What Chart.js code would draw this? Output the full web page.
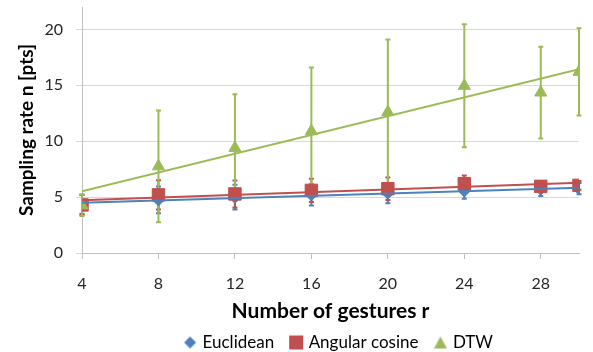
<!DOCTYPE html>
<html>
<head>
<meta charset="utf-8">
<script src="https://cdn.jsdelivr.net/npm/chart.js@4.4.1/dist/chart.umd.min.js"></script>
<style>
  html, body { margin: 0; padding: 0; background: #fff; }
</style>
</head>
<body>
<canvas id="MiGrafico" width="593" height="352"></canvas>
<script>
// data
const gestures = [4, 8, 12, 16, 20, 24, 28, 30];
const xTicks = [4, 8, 12, 16, 20, 24, 28];
const yTicks = [0, 5, 10, 15, 20];
const seriesNames = ['Euclidean', 'Angular cosine', 'DTW'];
const euclidean = [4.35, 4.75, 5.0, 5.2, 5.35, 5.55, 5.7, 5.75];
const euclideanErr = [0.85, 1.2, 1.1, 0.95, 0.9, 0.7, 0.6, 0.5];
const angular = [4.3, 5.2, 5.28, 5.6, 5.75, 6.2, 5.96, 6.05];
const angularErr = [0.9, 1.3, 1.2, 1.05, 1.0, 0.73, 0.45, 0.4];
const dtw = [4.25, 7.75, 9.4, 10.9, 12.6, 14.95, 14.35, 16.2];
const dtwErr = [0.95, 5.0, 4.8, 5.7, 6.5, 5.5, 4.1, 3.9];

const colors = ['#4F81BD', '#C0504D', '#9BBB59'];
const styles = ['rectRot', 'rect', 'triangle'];
const radii = [6, 8.8, 7];

const FONT = 'Lato, "Open Sans", sans-serif';
const LEGEND_PAD = 18;

function points(ys) {
    return gestures.map((x, i) => ({ x: x, y: ys[i] }));
}

// least squares line, like the excel trendline
function trend(ys) {
    const n = gestures.length;
    const mx = gestures.reduce((a, b) => a + b, 0) / n;
    const my = ys.reduce((a, b) => a + b, 0) / n;
    let sxy = 0, sxx = 0;
    gestures.forEach((x, i) => {
        sxy += (x - mx) * (ys[i] - my);
        sxx += (x - mx) * (x - mx);
    });
    const b = sxy / sxx, a = my - b * mx;
    const x0 = gestures[0], x1 = gestures[n - 1];
    return [{ x: x0, y: a + b * x0 }, { x: x1, y: a + b * x1 }];
}

// small legend icons
function makeIcon(style, color) {
    const c = document.createElement('canvas');
    c.width = 16; c.height = 16;
    const g = c.getContext('2d');
    g.fillStyle = color;
    g.beginPath();
    if (style === 'rect') {
        g.rect(1, 1, 14, 14);
    } else if (style === 'rectRot') {
        g.moveTo(8, 2); g.lineTo(14, 8); g.lineTo(8, 14); g.lineTo(2, 8);
    } else {
        g.moveTo(8, 2); g.lineTo(14.5, 14); g.lineTo(1.5, 14);
    }
    g.closePath();
    g.fill();
    return c;
}

const allValues = [euclidean, angular, dtw];
const allErrors = [euclideanErr, angularErr, dtwErr];

const datasets = [];
allValues.forEach((vals, k) => {
    datasets.push({
        label: seriesNames[k],
        data: points(vals),
        showLine: false,
        pointStyle: styles[k],
        pointRadius: radii[k],
        pointHoverRadius: radii[k],
        backgroundColor: colors[k],
        borderColor: colors[k],
        pointBorderWidth: 1,
        errors: allErrors[k],
        icon: makeIcon(styles[k], colors[k]),
        order: 3 - k
    });
});
allValues.forEach((vals, k) => {
    datasets.push({
        label: seriesNames[k] + ' trend',
        data: trend(vals),
        borderColor: colors[k],
        borderWidth: 2,
        pointRadius: 0,
        isTrend: true,
        order: 0
    });
});

const errorBars = {
    id: 'errorBars',
    beforeDatasetsDraw(chart) {
        const ctx = chart.ctx;
        const xs = chart.scales.x, ys = chart.scales.y;
        chart.data.datasets.forEach(ds => {
            if (!ds.errors) return;
            ctx.save();
            ctx.strokeStyle = ds.borderColor;
            ctx.lineWidth = 2;
            ds.data.forEach((p, i) => {
                const px = xs.getPixelForValue(p.x);
                const top = ys.getPixelForValue(p.y + ds.errors[i]);
                const bot = ys.getPixelForValue(p.y - ds.errors[i]);
                ctx.beginPath();
                ctx.moveTo(px, top); ctx.lineTo(px, bot);
                ctx.moveTo(px - 2.5, top); ctx.lineTo(px + 2.5, top);
                ctx.moveTo(px - 2.5, bot); ctx.lineTo(px + 2.5, bot);
                ctx.stroke();
            });
            ctx.restore();
        });
    }
};

// legend sits centred under the plot area, a bit higher than chart.js puts it
const legendUnderPlot = {
    id: 'legendUnderPlot',
    beforeDraw(chart) {
        chart.legend.left = chart.chartArea.left + LEGEND_PAD;
        chart.legend.right = chart.chartArea.right;
        chart.legend.top = chart.chartArea.bottom + 63;
    }
};

let miCanvas = document.getElementById('MiGrafico').getContext('2d');

const myChart = new Chart(miCanvas, {
    type: 'line',
    data: { datasets: datasets },
    plugins: [errorBars, legendUnderPlot],
    options: {
        responsive: false,
        animation: false,
        devicePixelRatio: 1,
        layout: { autoPadding: false, padding: { top: 7, right: 14, left: 0, bottom: -17 } },
        scales: {
            x: {
                type: 'linear',
                min: 4,
                max: 30,
                afterBuildTicks: s => { s.ticks = xTicks.map(v => ({ value: v })); },
                afterFit: s => { s.height = 71; s.paddingLeft = 0; s.paddingRight = 0; },
                grid: { drawOnChartArea: false, drawTicks: true, tickLength: 6, color: '#BFBFBF', lineWidth: 1 },
                border: { color: '#BFBFBF', width: 1 },
                ticks: { padding: 15, color: '#262626', font: { family: FONT, size: 16 }, maxRotation: 0 },
                title: { display: true, text: 'Number of gestures r', color: '#000',
                         padding: { top: 0, bottom: 0 },
                         font: { family: FONT, size: 21, weight: 'bold' } }
            },
            y: {
                min: 0,
                max: 22,
                afterBuildTicks: s => { s.ticks = yTicks.map(v => ({ value: v })); },
                afterFit: s => { s.width = 82; s.paddingTop = 0; s.paddingBottom = 0; },
                grid: { color: '#D9D9D9', lineWidth: 1, tickLength: 6 },
                border: { color: '#BFBFBF', width: 1 },
                ticks: { padding: 13, color: '#262626', font: { family: FONT, size: 16 } },
                title: { display: true, text: 'Sampling rate n [pts]', color: '#000',
                         padding: { top: 15, bottom: 0 },
                         font: { family: FONT, size: 19, weight: 'bold' } }
            }
        },
        plugins: {
            tooltip: { enabled: false },
            legend: {
                position: 'bottom',
                labels: {
                    color: '#262626',
                    font: { family: FONT, size: 17 },
                    usePointStyle: true,
                    boxWidth: 8,
                    boxHeight: 14,
                    padding: LEGEND_PAD,
                    generateLabels: chart => chart.data.datasets
                        .map((ds, i) => ({ ds: ds, i: i }))
                        .filter(o => !o.ds.isTrend)
                        .map(o => ({
                            text: o.ds.label,
                            fillStyle: o.ds.backgroundColor,
                            strokeStyle: o.ds.borderColor,
                            lineWidth: 0,
                            pointStyle: o.ds.icon,
                            hidden: false,
                            datasetIndex: o.i
                        }))
                }
            }
        }
    }
});
</script>
</body>
</html>
